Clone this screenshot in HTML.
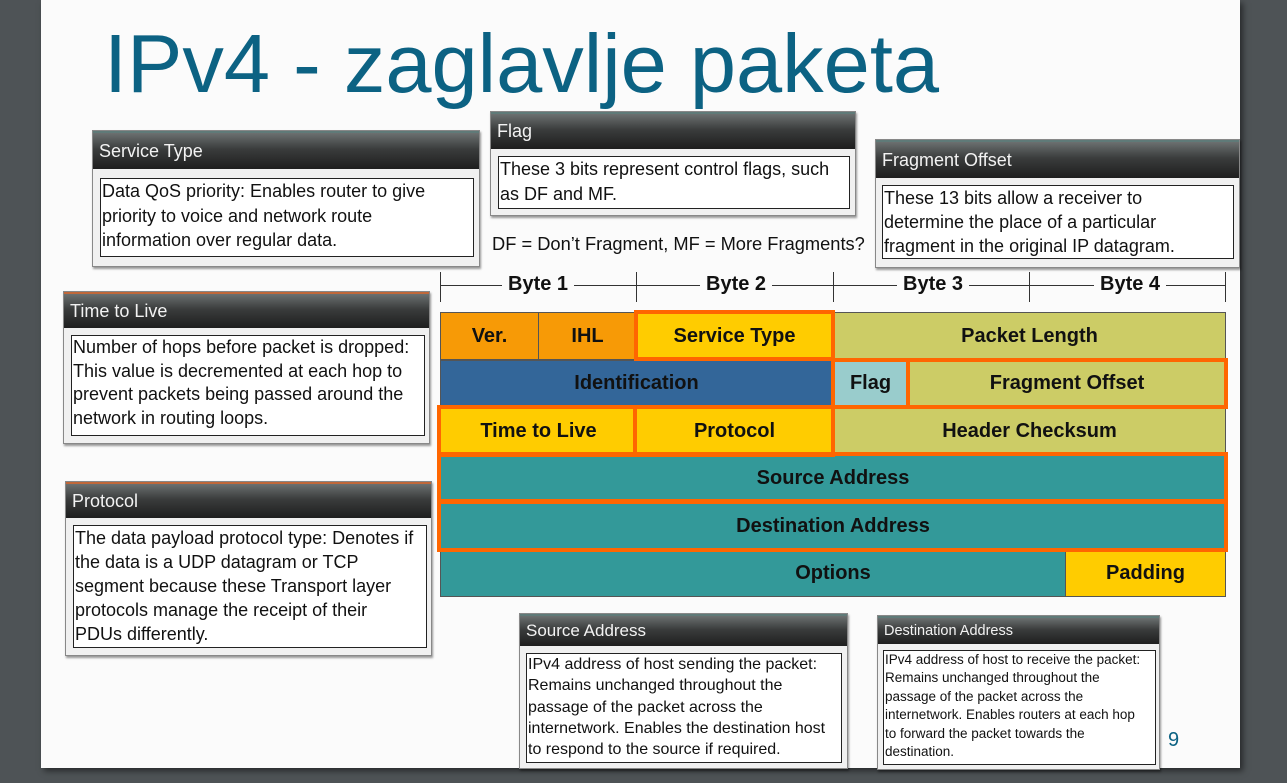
<!DOCTYPE html>
<html><head><meta charset="utf-8"><style>
*{margin:0;padding:0;box-sizing:border-box}
body{width:1287px;height:783px;background:#4e5356;position:relative;overflow:hidden;font-family:"Liberation Sans",sans-serif}
.slide{position:absolute;left:41px;top:0;width:1199px;height:768px;background:#fbfbfb;box-shadow:3px 3px 6px rgba(0,0,0,.5)}
.a{position:absolute}
.title{left:104px;top:16px;font-size:83px;color:#0c6283;white-space:nowrap}
.c{position:absolute;text-align:center;font-weight:bold;font-size:20px;color:#111;display:flex;align-items:center;justify-content:center;border:1px solid #555}
.ob{position:absolute;border:4px solid #ff6600}
.box{position:absolute;background:#f0f0f0;border:1px solid #888;box-shadow:1px 2px 2px rgba(0,0,0,.4)}
.hd{position:absolute;left:0;right:0;top:0;background:linear-gradient(#6b7070,#3a3c3c 45%,#1e1e1e);color:#f2f2f2;font-size:18px;padding-left:6px;display:flex;align-items:center;border-top:2px solid #5f7a78}
.in{position:absolute;background:#fff;border:1.5px solid #222;font-size:18px;line-height:24.5px;color:#111;padding-left:1px;white-space:nowrap}
.bl{position:absolute;font-weight:bold;font-size:20px;color:#111;background:#fbfbfb;padding:0 6px}
</style></head><body>
<div class="slide"></div>
<div class="a title">IPv4 - zaglavlje paketa</div>

<div class="a" style="left:440px;top:285px;width:786px;height:1px;background:#333"></div>
<div class="a" style="left:440px;top:272px;width:1px;height:30px;background:#333"></div>
<div class="a" style="left:636px;top:272px;width:1px;height:30px;background:#333"></div>
<div class="a" style="left:833px;top:272px;width:1px;height:30px;background:#333"></div>
<div class="a" style="left:1029px;top:272px;width:1px;height:30px;background:#333"></div>
<div class="a" style="left:1225px;top:272px;width:1px;height:30px;background:#333"></div>
<div class="bl" style="left:502px;top:273px">Byte 1</div>
<div class="bl" style="left:700px;top:273px">Byte 2</div>
<div class="bl" style="left:897px;top:273px">Byte 3</div>
<div class="bl" style="left:1094px;top:273px">Byte 4</div>

<div class="c" style="left:440px;top:312px;width:99px;height:48px;background:#f79a06">Ver.</div>
<div class="c" style="left:538px;top:312px;width:99px;height:48px;background:#f79a06">IHL</div>
<div class="c" style="left:636px;top:312px;width:197px;height:48px;background:#ffcc00">Service Type</div>
<div class="c" style="left:833px;top:312px;width:393px;height:48px;background:#cccc66">Packet Length</div>
<div class="c" style="left:440px;top:360px;width:393px;height:47px;background:#336699">Identification</div>
<div class="c" style="left:833px;top:360px;width:75px;height:47px;background:#99cccc">Flag</div>
<div class="c" style="left:908px;top:360px;width:318px;height:47px;background:#cccc66">Fragment Offset</div>
<div class="c" style="left:440px;top:407px;width:197px;height:48px;background:#ffcc00">Time to Live</div>
<div class="c" style="left:636px;top:407px;width:197px;height:48px;background:#ffcc00">Protocol</div>
<div class="c" style="left:833px;top:407px;width:393px;height:48px;background:#cccc66">Header Checksum</div>
<div class="c" style="left:440px;top:455px;width:786px;height:47px;background:#339999">Source Address</div>
<div class="c" style="left:440px;top:502px;width:786px;height:48px;background:#339999">Destination Address</div>
<div class="c" style="left:440px;top:550px;width:786px;height:47px;background:#339999">Options</div>
<div class="c" style="left:1065px;top:550px;width:161px;height:47px;background:#ffcc00">Padding</div>

<div class="ob" style="left:634px;top:310px;width:201px;height:51px"></div>
<div class="ob" style="left:831px;top:358px;width:79px;height:51px"></div>
<div class="ob" style="left:906px;top:358px;width:322px;height:51px"></div>
<div class="ob" style="left:437px;top:405px;width:200px;height:52px"></div>
<div class="ob" style="left:633px;top:405px;width:202px;height:52px"></div>
<div class="ob" style="left:437px;top:452px;width:791px;height:52px"></div>
<div class="ob" style="left:437px;top:499px;width:791px;height:53px"></div>

<div class="a" style="left:492px;top:233px;font-size:18.3px;color:#111;white-space:nowrap">DF = Don’t Fragment, MF = More Fragments?</div>
<div class="a" style="left:1168px;top:729px;font-size:20px;color:#0c6283">9</div>

<div class="box" style="left:92px;top:130px;width:388px;height:137px">
 <div class="hd" style="height:38px">Service Type</div>
 <div class="in" style="left:7px;top:47px;width:374px;height:79px">Data QoS priority: Enables router to give<br>priority to voice and network route<br>information over regular data.</div>
</div>
<div class="box" style="left:490px;top:111px;width:366px;height:105px">
 <div class="hd" style="height:37px">Flag</div>
 <div class="in" style="left:7px;top:44px;width:352px;height:53px">These 3 bits represent control flags, such<br>as DF and MF.</div>
</div>
<div class="box" style="left:875px;top:139px;width:365px;height:129px">
 <div class="hd" style="height:38px">Fragment Offset</div>
 <div class="in" style="left:6px;top:45px;width:352px;height:74px;line-height:24px">These 13 bits allow a receiver to<br>determine the place of a particular<br>fragment in the original IP datagram.</div>
</div>
<div class="box" style="left:63px;top:291px;width:367px;height:153px">
 <div class="hd" style="height:36px;border-top-color:#c0683a">Time to Live</div>
 <div class="in" style="left:7px;top:43px;width:354px;height:101px;line-height:23.5px">Number of hops before packet is dropped:<br>This value is decremented at each hop to<br>prevent packets being passed around the<br>network in routing loops.</div>
</div>
<div class="box" style="left:65px;top:481px;width:367px;height:175px">
 <div class="hd" style="height:36px;border-top-color:#c0683a">Protocol</div>
 <div class="in" style="left:7px;top:43px;width:354px;height:123px;line-height:24px">The data payload protocol type: Denotes if<br>the data is a UDP datagram or TCP<br>segment because these Transport layer<br>protocols manage the receipt of their<br>PDUs differently.</div>
</div>
<div class="box" style="left:519px;top:613px;width:329px;height:156px">
 <div class="hd" style="height:32px;font-size:17px">Source Address</div>
 <div class="in" style="left:6px;top:39px;width:316px;height:110px;font-size:16px;line-height:21.3px">IPv4 address of host sending the packet:<br>Remains unchanged throughout the<br>passage of the packet across the<br>internetwork. Enables the destination host<br>to respond to the source if required.</div>
</div>
<div class="box" style="left:877px;top:615px;width:283px;height:155px">
 <div class="hd" style="height:28px;font-size:14.5px">Destination Address</div>
 <div class="in" style="left:5px;top:34px;width:273px;height:115px;font-size:13.5px;line-height:18.4px">IPv4 address of host to receive the packet:<br>Remains unchanged throughout the<br>passage of the packet across the<br>internetwork. Enables routers at each hop<br>to forward the packet towards the<br>destination.</div>
</div>
</body></html>
